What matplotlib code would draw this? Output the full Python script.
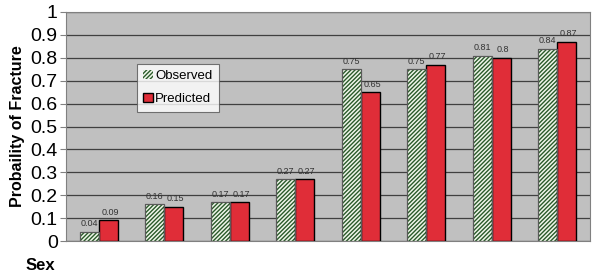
import matplotlib
matplotlib.use("Agg")
import matplotlib.pyplot as plt
import numpy as np

observed = [0.04, 0.16, 0.17, 0.27, 0.75, 0.75, 0.81, 0.84]
predicted = [0.09, 0.15, 0.17, 0.27, 0.65, 0.77, 0.80, 0.87]
series_names = ["Observed", "Predicted"]
yticks = [0, 0.1, 0.2, 0.3, 0.4, 0.5, 0.6, 0.7, 0.8, 0.9, 1]
ytick_labels = ["0", "0.1", "0.2", "0.3", "0.4", "0.5", "0.6", "0.7", "0.8", "0.9", "1"]

plt.rcParams['font.family'] = ['Liberation Sans', 'DejaVu Sans']
plt.rcParams['hatch.linewidth'] = 1.0

fig = plt.figure(figsize=(5.95, 2.76), dpi=100)
ax = fig.add_axes([66/595, 1-241/276, 524/595, 229/276])
ax.set_facecolor('#c0c0c0')

x = np.arange(len(observed))
w = 0.29
b1 = ax.bar(x - w/2, observed, w, facecolor='#f0f7ea', edgecolor='#2a5a2a',
            hatch='////////', linewidth=0, label=series_names[0], zorder=3)
ax.bar(x - w/2, observed, w, fill=False, edgecolor='#5a5a5a', linewidth=0.9, zorder=3.5)
b2 = ax.bar(x + w/2, predicted, w, facecolor='#e02d38', edgecolor='black',
            linewidth=1.0, label=series_names[1], zorder=3)

for xi, v in zip(x, observed):
    ax.text(xi - w/2, v + 0.015, f"{v:g}", ha='center', va='bottom', fontsize=6.5, color='#333333', zorder=4)
for xi, v in zip(x, predicted):
    ax.text(xi + w/2 + 0.03, v + 0.015, f"{v:g}", ha='center', va='bottom', fontsize=6.5, color='#333333', zorder=4)

ax.set_xlim(-0.5, len(observed) - 0.5)
ax.set_ylim(0, 1)
ax.set_yticks(yticks)
ax.set_yticklabels(ytick_labels, fontsize=14)
ax.set_xticks([])
ax.yaxis.grid(True, color='#404040', linewidth=0.9, zorder=0)
ax.set_axisbelow(True)
ax.tick_params(axis='y', length=4, color='#808080', pad=2)
for s in ['top', 'right', 'left', 'bottom']:
    ax.spines[s].set_color('#808080')
ax.set_ylabel("Probaility of Fracture", fontsize=11.5, fontweight='bold', labelpad=4)
fig.text(40/595, 1-265/276, "Sex", fontsize=12, fontweight='bold', ha='center', va='center')

leg = ax.legend(loc='upper left', bbox_to_anchor=(0.135, 0.775), fontsize=9.5,
                frameon=True, fancybox=False, handlelength=0.7, handleheight=0.7,
                handletextpad=0.2, borderpad=0.5, labelspacing=0.8, borderaxespad=0)
leg.get_frame().set_edgecolor('#555555')
leg.get_frame().set_facecolor('white')
leg.get_frame().set_linewidth(0.8)

fig.savefig("out.png", dpi=100)
